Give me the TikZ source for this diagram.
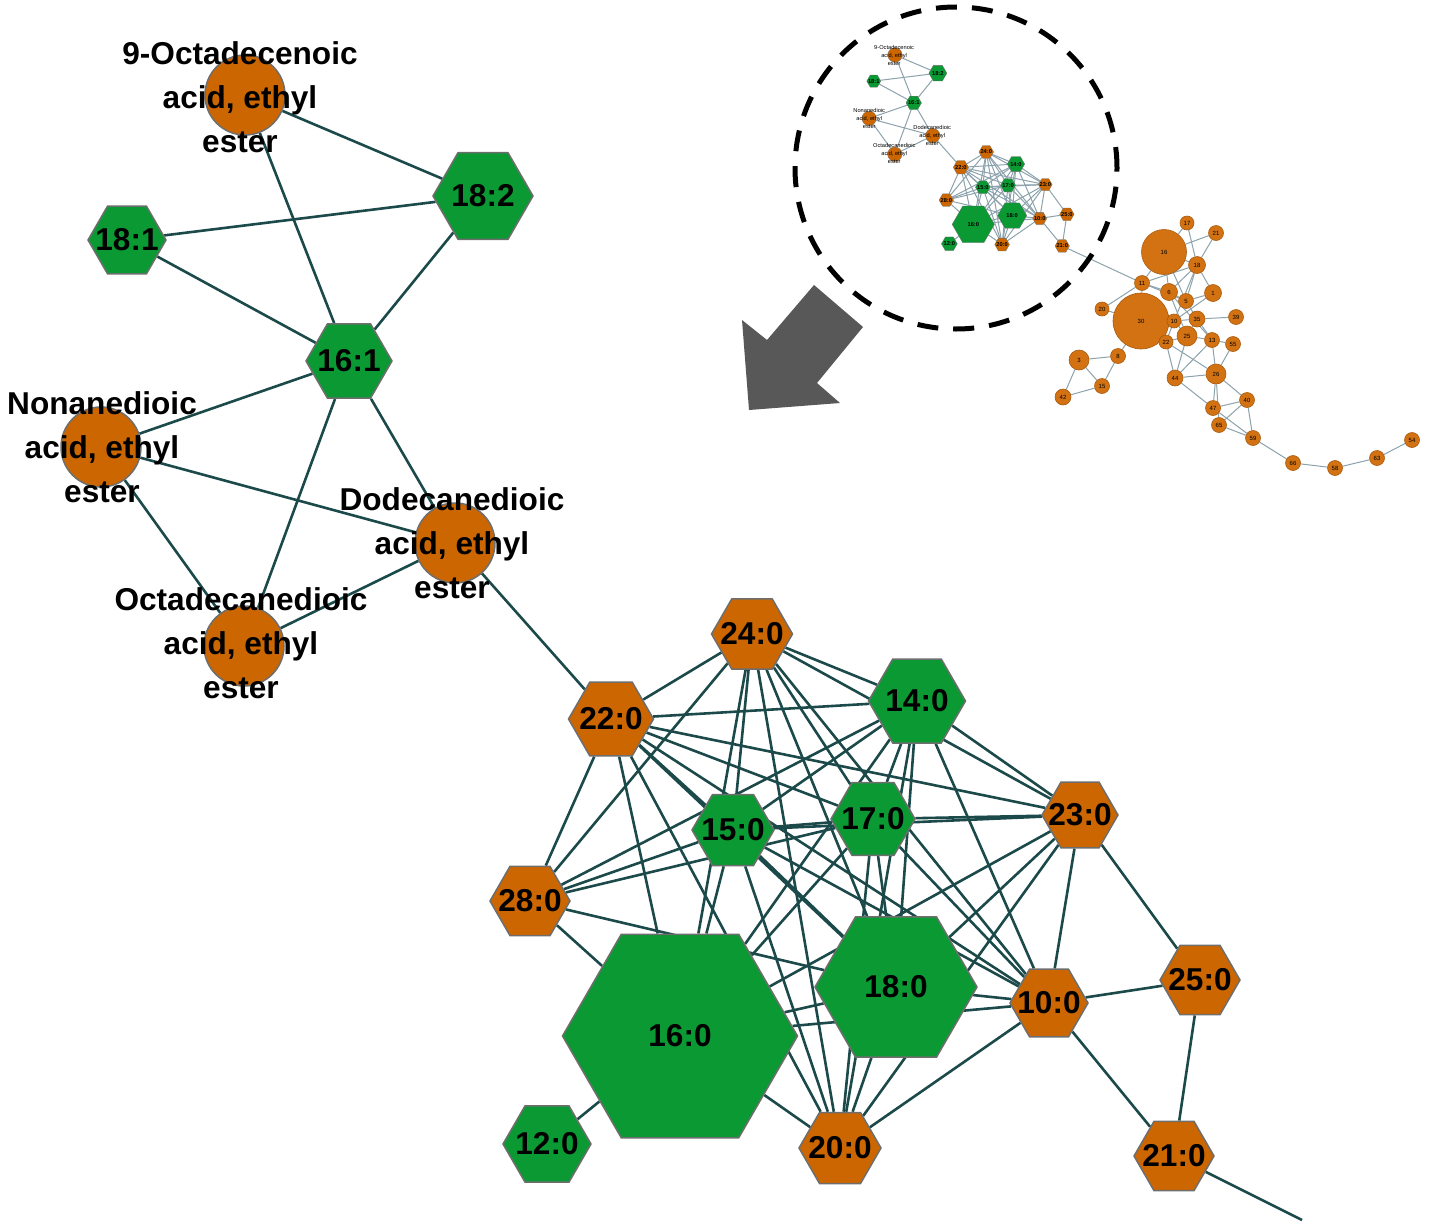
\documentclass[tikz,border=0pt]{standalone}
\usepackage{fontspec}
\setmainfont{Liberation Sans}
\usetikzlibrary{shapes.geometric,backgrounds}

\definecolor{esterorange}{RGB}{204,102,0}
\definecolor{acidgreen}{RGB}{10,153,51}
\definecolor{linkteal}{RGB}{28,74,74}
\definecolor{rimgray}{RGB}{110,110,110}
\definecolor{insetlink}{RGB}{140,162,172}
\definecolor{insetorange}{RGB}{210,114,18}
\definecolor{arrowgray}{RGB}{88,88,88}

% the fatty acid network, #1 = prefix of the node names
\newcommand{\acidnet}[1]{%
  \node[ester] (#1oct9) at (245,95) {};
  \node[ester] (#1nona) at (101,447) {};
  \node[ester] (#1dodec) at (455,543) {};
  \node[ester] (#1octa) at (244,646) {};
  \node[greenhex=100] (#1h182) at (483,196) {18:2};
  \node[greenhex=78] (#1h181) at (127,240) {18:1};
  \node[greenhex=86] (#1h161) at (349,361) {16:1};
  \node[orangehex=85] (#1h220) at (611,719) {22:0};
  \node[orangehex=81] (#1h240) at (752,634) {24:0};
  \node[greenhex=97] (#1h140) at (917,701) {14:0};
  \node[greenhex=82] (#1h150) at (733,830) {15:0};
  \node[greenhex=84] (#1h170) at (873,819) {17:0};
  \node[orangehex=76] (#1h230) at (1080,815) {23:0};
  \node[orangehex=80] (#1h280) at (530,901) {28:0};
  \node[greenhex=235] (#1h160) at (680,1036) {16:0};
  \node[greenhex=162] (#1h180) at (896,987) {18:0};
  \node[orangehex=78] (#1h100) at (1049,1003) {10:0};
  \node[orangehex=80] (#1h250) at (1200,980) {25:0};
  \node[greenhex=88] (#1h120) at (547,1144) {12:0};
  \node[orangehex=82] (#1h200) at (840,1148) {20:0};
  \node[orangehex=80] (#1h210) at (1174,1156) {21:0};
  \begin{pgfonlayer}{background}
  \foreach \a/\b in {oct9/h182, oct9/h161, h181/h182, h181/h161, h182/h161,
      h161/nona, h161/octa, h161/dodec, nona/dodec, nona/octa, octa/dodec, dodec/h220,
      h220/h240, h220/h140, h220/h150, h220/h170, h220/h230, h220/h280, h220/h160,
      h220/h180, h220/h200, h220/h100,
      h240/h140, h240/h230, h240/h280, h240/h150, h240/h160, h240/h180, h240/h200,
      h240/h170, h240/h100,
      h140/h150, h140/h280, h140/h170, h140/h180, h140/h200, h140/h160, h140/h230, h140/h100,
      h150/h170, h150/h280, h150/h160, h150/h180, h150/h200, h150/h100, h150/h230,
      h170/h230, h170/h280, h170/h160, h170/h180, h170/h200, h170/h100,
      h230/h160, h230/h180, h230/h200, h230/h100, h230/h250,
      h280/h160, h280/h180, h160/h180, h160/h200, h160/h120, h160/h100,
      h180/h200, h180/h100, h100/h200, h100/h250, h100/h210, h250/h210}
    \draw[netlink] (#1\a) -- (#1\b);
  \end{pgfonlayer}
  \node[esterlabel] (#1oct9txt) at (240,97) {9-Octadecenoic\\acid, ethyl\\ester};
  \node[esterlabel] (#1nonatxt) at (102,447) {Nonanedioic\\acid, ethyl\\ester};
  \node[esterlabel] (#1dodectxt) at (452,543) {Dodecanedioic\\acid, ethyl\\ester};
  \node[esterlabel] (#1octatxt) at (241,643) {Octadecanedioic\\acid, ethyl\\ester};
}

\begin{document}
\begin{tikzpicture}
[x=0.5pt,y=-0.5pt,%
  rim/.style={line width=0.75pt},%
  hexa/.style={regular polygon,regular polygon sides=6,inner xsep=-16pt,inner ysep=0pt,
    minimum size={0.5pt*#1},draw=rimgray,rim,font=\bfseries\fontsize{15.8}{22}\selectfont},%
  greenhex/.style={hexa=#1,fill=acidgreen},%
  orangehex/.style={hexa=#1,fill=esterorange},%
  ester/.style={circle,inner sep=0pt,minimum size=40pt,fill=esterorange,draw=rimgray,rim},%
  esterlabel/.style={align=center,inner sep=0pt,font=\bfseries\fontsize{15.8}{22}\selectfont},%
  netlink/.style={draw=linkteal,line width=1.3pt},%
  dot/.style={circle,inner sep=0pt,minimum size={0.5pt*#1},fill=insetorange,
    draw=insetorange!80!black,line width=0.3pt,font=\fontsize{3}{3}\selectfont},%
  insetedge/.style={draw=insetlink,line width=0.5pt}]
\useasboundingbox (0,0) rectangle (1429,1226);

\acidnet{}
\coordinate (tailend) at (1302,1220);
\begin{pgfonlayer}{background}
\draw[netlink] (h210) -- (tailend);
\end{pgfonlayer}

% overview of the whole network
\begin{scope}[shift={(895,55)},scale=0.18,shift={(-245,-95)},transform shape,
  rim/.style={line width=0.15pt},netlink/.style={insetedge},
  esterlabel/.append style={font=\fontsize{15.8}{22}\selectfont}]
\acidnet{m}
\end{scope}

\foreach \n/\x/\y/\d in {17/1187/223/14, 21/1216/233/15, 16/1164/252/45,
    18/1197/265/17, 11/1142/283/15, 6/1169/292/17, 5/1186/301/15, 1/1213/293/17,
    20/1102/309/14, 30/1141/321/56, 10/1174/321/14, 35/1197/319/16, 39/1236/317/15,
    25/1187/336/20, 22/1166/342/14, 13/1212/340/15, 55/1233/344/15, 8/1118/356/15,
    3/1079/360/20, 15/1102/386/15, 42/1063/397/16, 44/1175/378/16, 26/1216/374/20,
    40/1247/400/15, 47/1213/408/15, 65/1219/425/15, 59/1253/438/15, 66/1293/463/15,
    58/1335/468/15, 63/1377/458/15, 54/1412/440/15}
  \node[dot=\d] (r\n) at (\x,\y) {\n};
\begin{pgfonlayer}{background}
\draw[insetedge] (mh210) -- (r11);
\foreach \a/\b in {17/18, 17/16, 21/18, 21/16, 16/11, 16/6, 16/5, 16/18, 18/11,
    18/6, 18/5, 18/1, 18/10, 11/6, 11/5, 11/30, 20/11, 20/30, 1/5, 1/10, 6/5,
    6/25, 6/13, 35/39, 35/25, 35/10, 35/13, 5/35, 10/25, 10/22, 30/10, 25/13,
    25/44, 25/22, 13/55, 13/26, 30/8, 30/22, 22/44, 22/26, 3/8, 3/15, 3/42,
    42/15, 8/15, 44/26, 44/13, 44/47, 26/55, 26/47, 26/65, 26/40, 40/47, 40/65,
    40/59, 47/59, 65/59, 59/66, 66/58, 58/63, 63/54}
  \draw[insetedge] (r\a) -- (r\b);
\end{pgfonlayer}

\node[circle,draw=black,line width=2.5pt,dash pattern=on 10.5pt off 7.5pt,
  minimum size=161pt,inner sep=0pt] (lens) at (956,168) {};
\fill[arrowgray] (814,285) -- (863,327) -- (817,383) -- (840,403) -- (749,410)
  -- (742,320) -- (767,340) -- cycle;
\end{tikzpicture}
\end{document}
